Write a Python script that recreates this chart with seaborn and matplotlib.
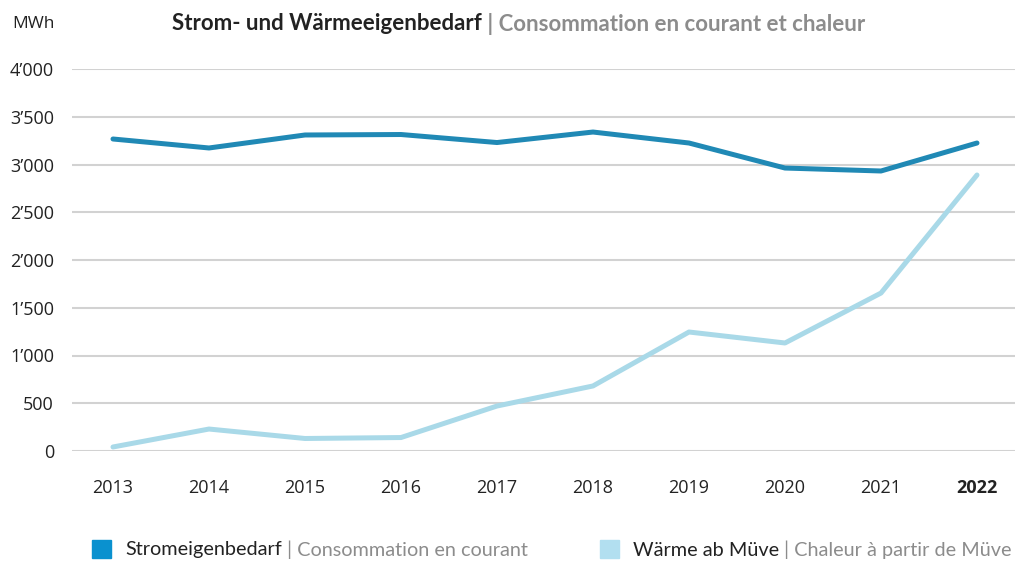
import pandas as pd
import numpy as np
import matplotlib.pyplot as plt
import seaborn as sns
from matplotlib.patches import Rectangle

years = [2013, 2014, 2015, 2016, 2017, 2018, 2019, 2020, 2021, 2022]
strom = [3267, 3173, 3309, 3314, 3230, 3340, 3225, 2963, 2932, 3225]
waerme = [42, 230, 131, 141, 471, 681, 1246, 1131, 1654, 2890]
yticks = [0, 500, 1000, 1500, 2000, 2500, 3000, 3500, 4000]

dark = "#2089b5"
light = "#a9d9e8"
grey = "#8c8c8c"

df = pd.DataFrame({"year": years * 2,
                   "value": strom + waerme,
                   "serie": ["strom"] * len(years) + ["waerme"] * len(years)})

sns.set_style("white")
plt.rcParams["font.family"] = ["Open Sans", "DejaVu Sans"]

fig = plt.figure(figsize=(10.15, 5.65), dpi=100)
ax = fig.add_axes([72 / 1015, 114 / 565, 943 / 1015, 382 / 565])

sns.lineplot(data=df, x="year", y="value", hue="serie",
             palette={"strom": dark, "waerme": light}, linewidth=3.6,
             legend=False, ax=ax)

ax.set_xlim(2012.573, 2022.396)
ax.set_ylim(0, 4000)
ax.set_yticks(yticks)
ax.set_yticklabels([f"{v:,}".replace(",", "\u2019") for v in yticks])
ax.set_xticks(years)
ax.set_xticklabels([str(y) for y in years])
ax.get_xticklabels()[-1].set_fontweight("bold")
ax.tick_params(axis="both", length=0, labelsize=13, colors="#222222")
ax.tick_params(axis="x", pad=20)
ax.tick_params(axis="y", pad=13)
ax.yaxis.grid(True, color="#d2d2d2", linewidth=1.5)
ax.set_axisbelow(True)
ax.set_xlabel("")
ax.set_ylabel("")
sns.despine(ax=ax, left=True, bottom=True)

fig.text(12 / 1015, 1 - 24 / 565, "MWh", fontsize=12.5, color="#222222", va="center")

cond = ["Lato", "DejaVu Sans"]
t1 = fig.text(172 / 1015, 1 - 24 / 565, "Strom- und Wärmeeigenbedarf", fontsize=16,
              weight="bold", family=cond, color="#222222", va="center")
ax.annotate(" | Consommation en courant et chaleur", xy=(1, 0.5), xycoords=t1,
            fontsize=16, weight="bold", family=cond, color=grey, va="center")

# legend (squares a bit brighter than the lines, like the original)
for x0, col, txt1, txt2 in [(92, "#0a91cf", "Stromeigenbedarf", " | Consommation en courant"),
                            (600, "#b2dff0", "Wärme ab Müve", " | Chaleur à partir de Müve")]:
    fig.add_artist(Rectangle((x0 / 1015, 1 - 558 / 565), 19 / 1015, 18 / 565,
                             transform=fig.transFigure, color=col))
    a = fig.text((x0 + 33) / 1015, 1 - 550 / 565, txt1, fontsize=14.3, family=cond,
                 color="#222222", va="center")
    ax.annotate(txt2, xy=(1, 0.5), xycoords=a, fontsize=14.3, family=cond,
                color=grey, va="center")

fig.savefig("out.png", dpi=100)
